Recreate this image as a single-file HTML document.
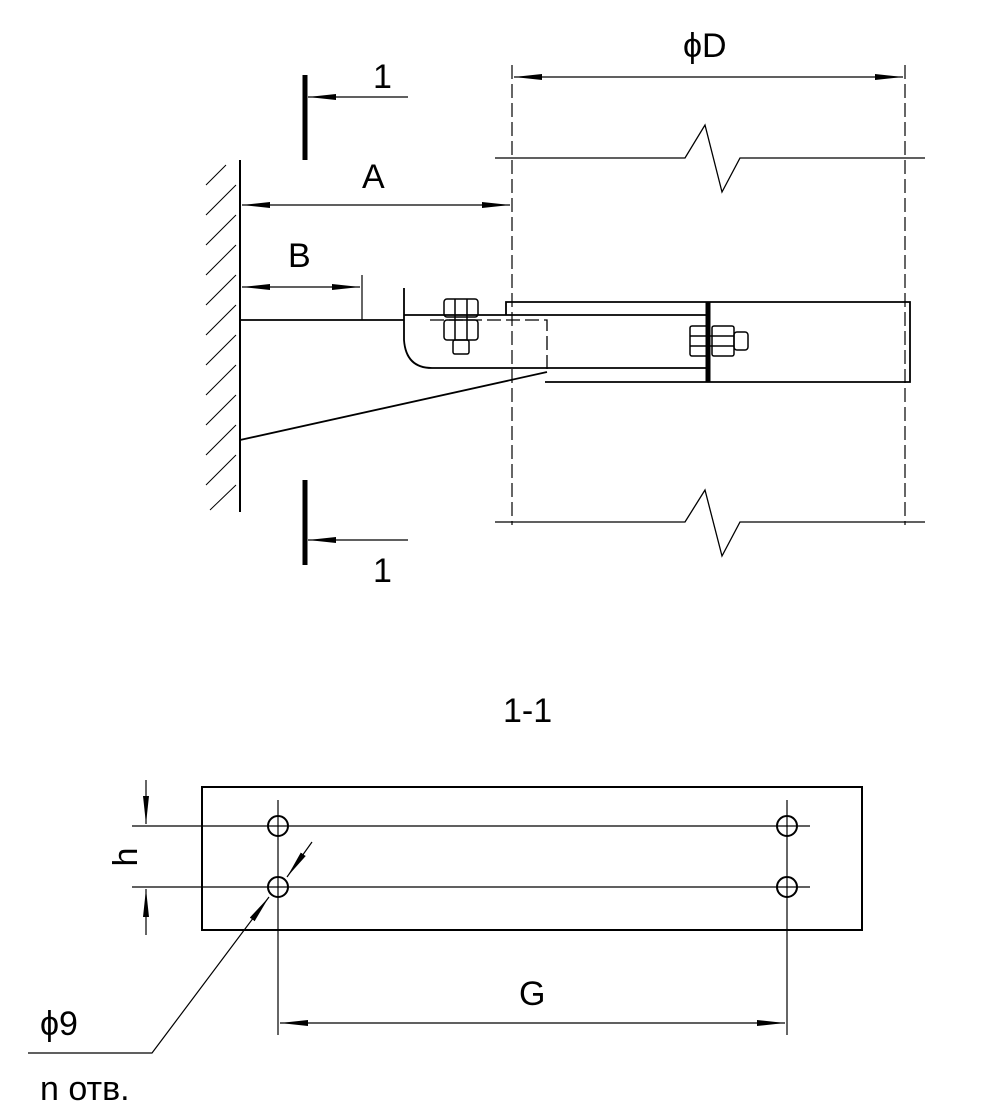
<!DOCTYPE html>
<html><head><meta charset="utf-8"><style>html,body{margin:0;background:#fff}svg{display:block}</style></head><body>
<svg width="1000" height="1110" viewBox="0 0 1000 1110" xmlns="http://www.w3.org/2000/svg" font-family="Liberation Sans, sans-serif" fill="none" stroke="#000">
<defs><marker id="a" markerWidth="30" markerHeight="10" refX="28" refY="5" orient="auto" markerUnits="userSpaceOnUse"><path d="M0,2 L28,5 L0,8 Z" fill="#000" stroke="none"/></marker></defs>
<line x1="240" y1="160" x2="240" y2="512" stroke-width="2"/>
<g stroke-width="1">
<path d="M206,185 L226,165 M206,215 L236,185 M206,245 L236,215 M206,275 L236,245 M206,305 L236,275 M206,335 L236,305 M206,365 L236,335 M206,395 L236,365 M206,425 L236,395 M206,455 L236,425 M206,485 L236,455 M210,510 L236,485"/>
</g>
<line x1="305" y1="75" x2="305" y2="160" stroke-width="5"/>
<line x1="408" y1="97" x2="308" y2="97" stroke-width="1.2" marker-end="url(#a)"/>
<line x1="305" y1="480" x2="305" y2="565" stroke-width="5"/>
<line x1="408" y1="540" x2="308" y2="540" stroke-width="1.2" marker-end="url(#a)"/>
<line x1="376" y1="205" x2="242" y2="205" stroke-width="1.2" marker-end="url(#a)"/>
<line x1="376" y1="205" x2="510" y2="205" stroke-width="1.2" marker-end="url(#a)"/>
<line x1="300" y1="287" x2="242" y2="287" stroke-width="1.2" marker-end="url(#a)"/>
<line x1="300" y1="287" x2="360" y2="287" stroke-width="1.2" marker-end="url(#a)"/>
<line x1="362" y1="275" x2="362" y2="320" stroke-width="1.2"/>
<line x1="710" y1="77" x2="514" y2="77" stroke-width="1.2" marker-end="url(#a)"/>
<line x1="710" y1="77" x2="903" y2="77" stroke-width="1.2" marker-end="url(#a)"/>
<line x1="512" y1="65" x2="512" y2="525" stroke-width="1.2" stroke-dasharray="14,5"/>
<line x1="905" y1="65" x2="905" y2="525" stroke-width="1.2" stroke-dasharray="14,5"/>
<path d="M495,158 L685,158 L705,125 L722,192 L740,158 L925,158" stroke-width="1.3"/>
<path d="M495,522 L685,522 L705,490 L722,556 L740,522 L925,522" stroke-width="1.3"/>
<g stroke-width="1.8">
<line x1="240" y1="320" x2="404" y2="320"/>
<path d="M404,288 L404,340 Q406,368 432,368 L708,368"/>
<line x1="404" y1="315" x2="506" y2="315"/>
<path d="M506,315 L506,302 L910,302 L910,382 L545,382"/>
<line x1="506" y1="315" x2="708" y2="315"/>
<line x1="547" y1="372" x2="240" y2="440"/>
</g>
<path d="M430,320 L547,320 L547,372" stroke-width="1.3" stroke-dasharray="14,5"/>
<line x1="708" y1="302" x2="708" y2="382" stroke-width="5"/>
<g stroke-width="1.5">
<rect x="444" y="299" width="34" height="18" rx="3"/>
<rect x="444" y="320" width="34" height="20" rx="3"/>
<rect x="453" y="340" width="16" height="14" rx="2"/>
<line x1="455" y1="299" x2="455" y2="340"/><line x1="467" y1="299" x2="467" y2="340"/>
<rect x="690" y="326" width="18" height="30" rx="2"/>
<rect x="712" y="326" width="22" height="30" rx="2"/>
<rect x="734" y="332" width="14" height="18" rx="3"/>
<line x1="690" y1="336" x2="734" y2="336"/><line x1="690" y1="346" x2="734" y2="346"/>
</g>
<rect x="202" y="787" width="660" height="143" stroke-width="2"/>
<g stroke-width="1.2">
<line x1="132" y1="826" x2="810" y2="826"/>
<line x1="132" y1="887" x2="810" y2="887"/>
<line x1="278" y1="800" x2="278" y2="1035"/>
<line x1="787" y1="800" x2="787" y2="1035"/>
<circle cx="278" cy="826" r="10" stroke-width="2"/><circle cx="278" cy="887" r="10" stroke-width="2"/>
<circle cx="787" cy="826" r="10" stroke-width="2"/><circle cx="787" cy="887" r="10" stroke-width="2"/>
<line x1="146" y1="780" x2="146" y2="824" marker-end="url(#a)"/>
<line x1="146" y1="935" x2="146" y2="889" marker-end="url(#a)"/>
<line x1="535" y1="1023" x2="280" y2="1023" marker-end="url(#a)"/>
<line x1="535" y1="1023" x2="785" y2="1023" marker-end="url(#a)"/>
<line x1="312" y1="842" x2="287" y2="877" marker-end="url(#a)"/>
<path d="M28,1053 L152,1053 L269,897" marker-end="url(#a)"/>
</g>
<g fill="#000" stroke="none" font-size="34">
<text x="373" y="88">1</text>
<text x="373" y="582">1</text>
<text x="362" y="188">A</text>
<text x="288" y="267">B</text>
<text x="683" y="57">ϕD</text>
<text x="503" y="722">1-1</text>
<text x="519" y="1005">G</text>
<text x="128" y="857" transform="rotate(-90 128 857)" text-anchor="middle" dominant-baseline="middle">h</text>
<text x="40" y="1035">ϕ9</text>
<text x="40" y="1100">n отв.</text>
</g>
</svg>
</body></html>
